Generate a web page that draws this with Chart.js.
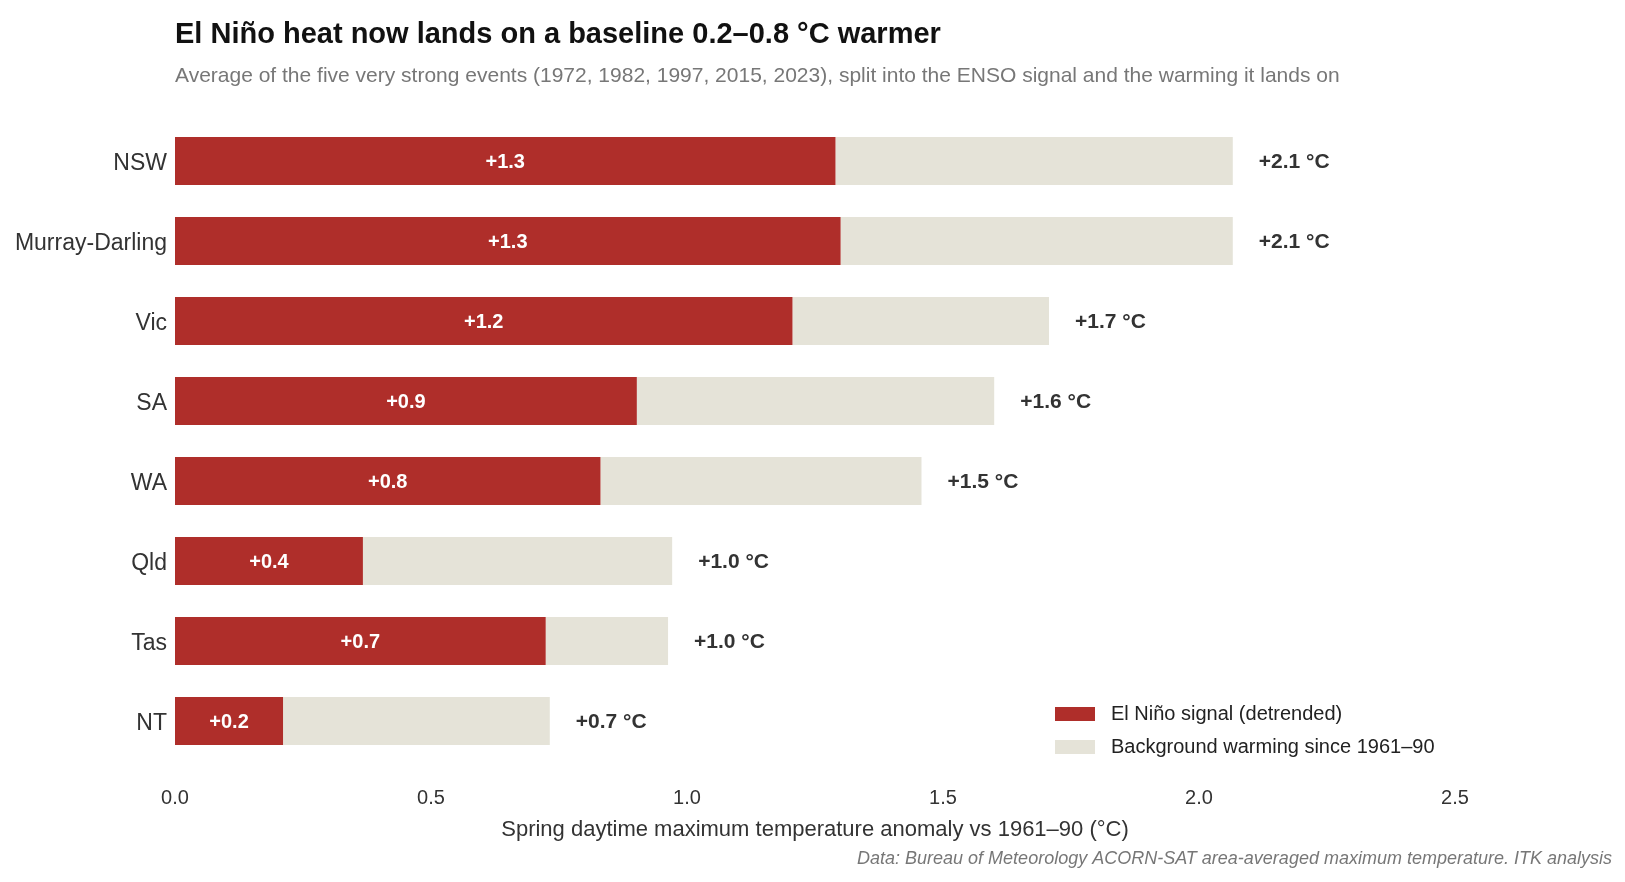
<!DOCTYPE html>
<html>
<head>
<meta charset="utf-8">
<script src="https://cdn.jsdelivr.net/npm/chart.js@4/dist/chart.umd.min.js"></script>
<style>
  html, body { margin: 0; padding: 0; background: #fff; }
  #wrap { width: 1625px; height: 882px; position: relative; }
</style>
</head>
<body>
<div id="wrap"><canvas id="chart"></canvas></div>
<script>
const regions = ['NSW', 'Murray-Darling', 'Vic', 'SA', 'WA', 'Qld', 'Tas', 'NT'];
const elNinoSignal = [1.29, 1.30, 1.206, 0.902, 0.831, 0.367, 0.724, 0.211];
const backgroundWarming = [0.776, 0.766, 0.501, 0.698, 0.627, 0.604, 0.239, 0.521];
const xTicks = [0, 0.5, 1.0, 1.5, 2.0, 2.5];

const RED = '#AF2E2A';
const BEIGE = '#E5E3D8';
const FONT = '"Liberation Sans", Arial, Helvetica, sans-serif';

const textPlugin = {
  id: 'texts',
  afterDatasetsDraw(chart) {
    const { ctx, chartArea } = chart;
    const sig = chart.getDatasetMeta(0);
    const bg = chart.getDatasetMeta(1);
    ctx.save();
    ctx.textBaseline = 'middle';
    // segment labels
    sig.data.forEach((bar, i) => {
      ctx.fillStyle = '#fff';
      ctx.font = 'bold 20px ' + FONT;
      ctx.textAlign = 'center';
      ctx.fillText('+' + elNinoSignal[i].toFixed(1), (bar.x + bar.base) / 2, bar.y + 1);
    });
    bg.data.forEach((bar, i) => {
      const total = elNinoSignal[i] + backgroundWarming[i];
      ctx.fillStyle = '#333';
      ctx.font = 'bold 21px ' + FONT;
      ctx.textAlign = 'left';
      ctx.fillText('+' + total.toFixed(1) + ' °C', bar.x + 26, bar.y + 1);
    });

    // title + subtitle
    ctx.textAlign = 'left';
    ctx.fillStyle = '#111';
    ctx.font = 'bold 29px ' + FONT;
    ctx.fillText('El Niño heat now lands on a baseline 0.2–0.8 °C warmer', chartArea.left, 35);
    ctx.fillStyle = '#777';
    ctx.font = '21px ' + FONT;
    ctx.fillText('Average of the five very strong events (1972, 1982, 1997, 2015, 2023), split into the ENSO signal and the warming it lands on', chartArea.left, 76);

    // legend
    const items = [[RED, 'El Niño signal (detrended)'], [BEIGE, 'Background warming since 1961–90']];
    items.forEach((it, k) => {
      const y = 714 + k * 33;
      ctx.fillStyle = it[0];
      ctx.fillRect(1055, y - 7, 40, 14);
      ctx.fillStyle = '#222';
      ctx.font = '20px ' + FONT;
      ctx.fillText(it[1], 1111, y);
    });

    // axis title
    ctx.textAlign = 'center';
    ctx.fillStyle = '#333';
    ctx.font = '22px ' + FONT;
    ctx.fillText('Spring daytime maximum temperature anomaly vs 1961–90 (°C)', (chartArea.left + chartArea.right) / 2, 830);

    // source
    ctx.textAlign = 'right';
    ctx.fillStyle = '#777';
    ctx.font = 'italic 18px ' + FONT;
    ctx.fillText('Data: Bureau of Meteorology ACORN-SAT area-averaged maximum temperature. ITK analysis', 1612, 859);
    ctx.restore();
  }
};

new Chart(document.getElementById('chart'), {
  type: 'bar',
  data: {
    labels: regions,
    datasets: [
      { label: 'El Niño signal (detrended)', data: elNinoSignal, backgroundColor: RED,
        barPercentage: 0.6, categoryPercentage: 1.0 },
      { label: 'Background warming since 1961–90', data: backgroundWarming, backgroundColor: BEIGE,
        barPercentage: 0.6, categoryPercentage: 1.0 }
    ]
  },
  options: {
    indexAxis: 'y',
    responsive: true,
    maintainAspectRatio: false,
    animation: false,
    layout: { padding: { top: 121, right: 170, bottom: 0, left: 0 } },
    plugins: { legend: { display: false }, tooltip: { enabled: false } },
    scales: {
      x: {
        stacked: true, min: 0, max: 2.5,
        afterBuildTicks: s => { s.ticks = xTicks.map(v => ({ value: v })); },
        afterFit: s => { s.height = 121; },
        grid: { display: false, drawTicks: false }, border: { display: false },
        ticks: { padding: 25, color: '#333', font: { family: FONT, size: 20 }, callback: v => v.toFixed(1) }
      },
      y: {
        stacked: true,
        afterFit: s => { s.width = 175; },
        grid: { display: false, drawTicks: false }, border: { display: false },
        ticks: { padding: 8, labelOffset: 3, color: '#333', font: { family: FONT, size: 23 } }
      }
    }
  },
  plugins: [textPlugin]
});
</script>
</body>
</html>
